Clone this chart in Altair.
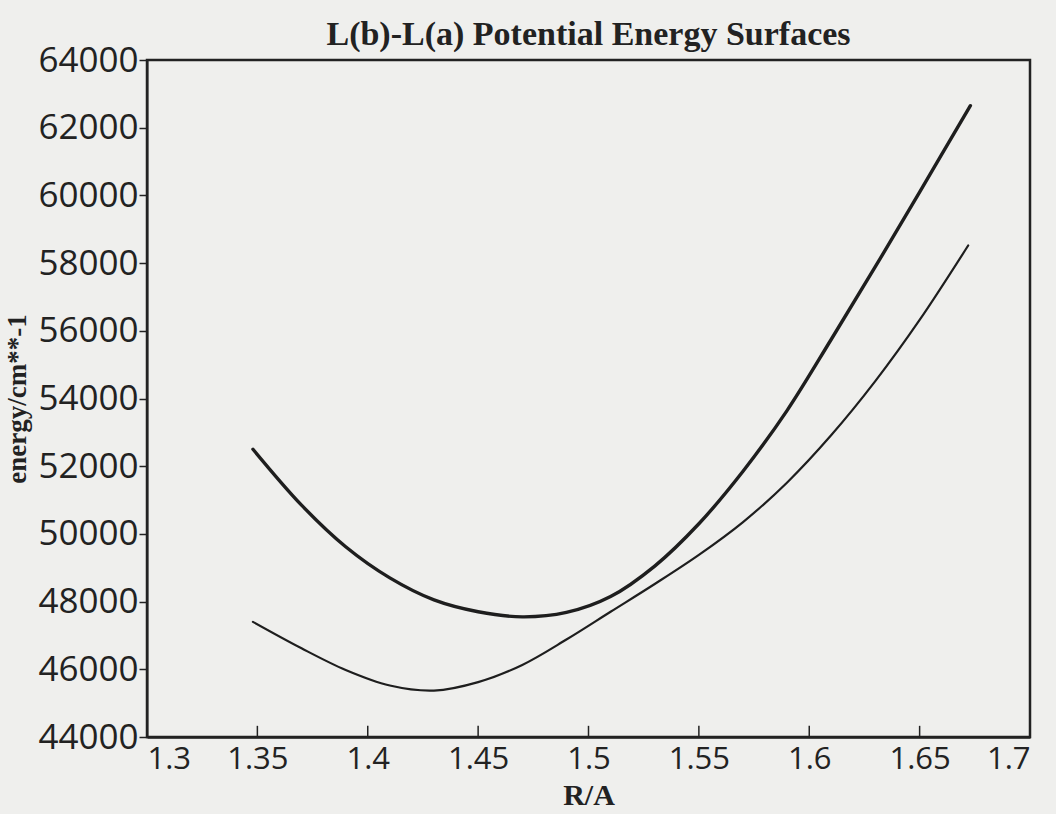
import altair as alt
import pandas as pd

# Upper (thick) curve
upper_r = [1.348, 1.37, 1.39, 1.41, 1.43, 1.45, 1.47, 1.49, 1.51, 1.53, 1.55, 1.57, 1.59, 1.61, 1.63, 1.65, 1.673]
upper_e = [52500, 50850, 49620, 48700, 48050, 47700, 47550, 47680, 48150, 49050, 50300, 51850, 53650, 55750, 57900, 60100, 62650]

# Lower (thin) curve
lower_r = [1.348, 1.37, 1.39, 1.41, 1.43, 1.45, 1.47, 1.49, 1.51, 1.53, 1.55, 1.57, 1.59, 1.61, 1.63, 1.65, 1.672]
lower_e = [47400, 46620, 45980, 45520, 45370, 45620, 46130, 46880, 47700, 48520, 49380, 50350, 51520, 52920, 54520, 56320, 58520]

x_ticks = [1.3, 1.35, 1.4, 1.45, 1.5, 1.55, 1.6, 1.65, 1.7]
y_ticks = [44000, 46000, 48000, 50000, 52000, 54000, 56000, 58000, 60000, 62000, 64000]

up = pd.DataFrame({"r": upper_r, "e": upper_e})
lo = pd.DataFrame({"r": lower_r, "e": lower_e})
ticks = pd.DataFrame({"r": x_ticks, "y0": [44000] * len(x_ticks), "y1": [44330] * len(x_ticks)})

xscale = alt.Scale(domain=[1.3, 1.7], nice=False, zero=False)
yscale = alt.Scale(domain=[44000, 64000], nice=False, zero=False)

xaxis = alt.Axis(values=x_ticks, format=".2~f", title="R/A", ticks=False, labelPadding=7,
                 labelFont="Open Sans", labelFontSize=31, labelColor="#222",
                 titleFont="Liberation Serif", titleFontWeight="bold", titleFontSize=30,
                 titleColor="#222", titleBaseline="alphabetic", titleY=67,
                 domainColor="#222", domainWidth=2.5, grid=False)
yaxis = alt.Axis(values=y_ticks, format="d", title="energy/cm**-1", tickSize=8, tickColor="#222",
                 tickWidth=1.5, labelPadding=1, labelFont="Open Sans", labelFontSize=35,
                 labelColor="#222", titleFont="Liberation Serif", titleFontWeight="bold",
                 titleFontSize=27, titleColor="#222", titlePadding=6, domainColor="#222",
                 domainWidth=2, grid=False)

line_up = alt.Chart(up).mark_line(color="#1e1e1e", strokeWidth=3.4, strokeCap="round",
                                  interpolate="catmull-rom").encode(
    x=alt.X("r:Q", scale=xscale, axis=xaxis),
    y=alt.Y("e:Q", scale=yscale, axis=yaxis),
)
line_lo = alt.Chart(lo).mark_line(color="#1e1e1e", strokeWidth=2.2, strokeCap="round",
                                  interpolate="catmull-rom").encode(
    x=alt.X("r:Q", scale=xscale),
    y=alt.Y("e:Q", scale=yscale),
)
tick_rules = alt.Chart(ticks).mark_rule(color="#222", strokeWidth=1.5).encode(
    x=alt.X("r:Q", scale=xscale),
    y=alt.Y("y0:Q", scale=yscale),
    y2="y1:Q",
)

chart = alt.layer(line_up, line_lo, tick_rules).properties(
    width=883,
    height=677,
    title=alt.TitleParams("L(b)-L(a) Potential Energy Surfaces", font="Liberation Serif",
                          fontSize=34, fontWeight="bold", color="#222", offset=-9, anchor="middle"),
    autosize=alt.AutoSizeParams(type="none"),
    padding={"left": 147, "top": 60, "right": 26, "bottom": 77},
    background="#efefed",
).configure_view(stroke="#222", strokeWidth=2.5)

chart.save("out.html", embed_options={"renderer": "svg", "actions": False})
